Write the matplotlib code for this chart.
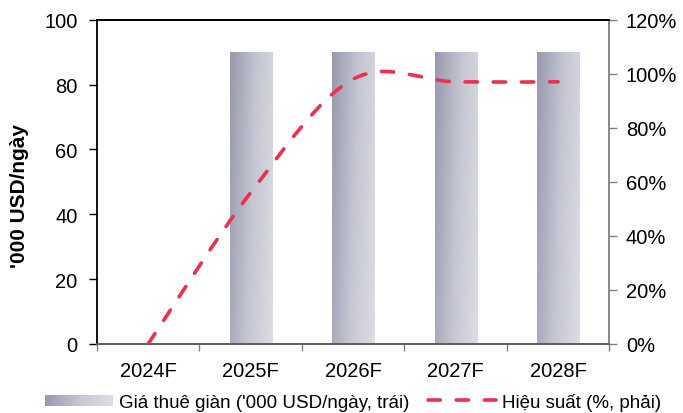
import numpy as np
import matplotlib

matplotlib.use('Agg')
import matplotlib.pyplot as plt
from matplotlib.path import Path
from matplotlib.patches import PathPatch, Rectangle
from matplotlib.lines import Line2D
from matplotlib.legend_handler import HandlerBase
from matplotlib.colors import LinearSegmentedColormap

plt.rcParams['font.family'] = ['Liberation Sans', 'DejaVu Sans']

years = ['2024F', '2025F', '2026F', '2027F', '2028F']
rig_rate = [0, 90, 90, 90, 90]          # '000 USD/ngay (trai)
utilization = [0, 56, 98, 97, 97]       # % (phai)

bar_cmap = LinearSegmentedColormap.from_list('rig', ['#9899ae', '#c3c5d1', '#dcdde4'])
line_color = '#ee2f4f'


class GradientHandler(HandlerBase):
    def create_artists(self, legend, orig_handle, xdescent, ydescent,
                       width, height, fontsize, trans):
        n = 30
        arts = []
        for k in range(n):
            r = Rectangle((xdescent + width * k / n, ydescent + height * 0.05),
                          width / n + 0.3, height * 0.9,
                          facecolor=bar_cmap(k / (n - 1)), edgecolor='none',
                          transform=trans)
            arts.append(r)
        return arts


fig = plt.figure(figsize=(6.83, 4.14), dpi=100)
ax = fig.add_axes([0.142, 0.167, 0.750, 0.783])
ax2 = ax.twinx()

x = np.arange(len(years))
bars = ax.bar(x, rig_rate, width=0.41, color='none', edgecolor='none', zorder=1)

# gradient fill for bars
gx = np.linspace(0, 1, 64)
gy = np.linspace(0, 1, 64)
GX, GY = np.meshgrid(gx, gy)
grad = 0.8 * GX + 0.2 * GY
for b in bars:
    if b.get_height() <= 0:
        continue
    x0, w, h = b.get_x(), b.get_width(), b.get_height()
    im = ax.imshow(grad, cmap=bar_cmap, extent=[x0, x0 + w, 0, h],
                   origin='upper', aspect='auto', zorder=1, vmin=0, vmax=1)
    im.set_clip_path(b)

ax.set_xlim(-0.5, len(years) - 0.5)
ax.set_ylim(0, 100)
ax.set_yticks(np.arange(0, 101, 20))
ax2.set_ylim(0, 120)
ax2.set_yticks(np.arange(0, 121, 20))
ax2.set_yticklabels(['%d%%' % v for v in range(0, 121, 20)])

# smoothed line (bezier through the points, like Excel)
pts = np.column_stack([x, utilization]).astype(float)
verts = [tuple(pts[0])]
codes = [Path.MOVETO]
n = len(pts)
for i in range(n - 1):
    p_prev = pts[max(i - 1, 0)]
    p0 = pts[i]
    p1 = pts[i + 1]
    p_next = pts[min(i + 2, n - 1)]
    c1 = p0 + (p1 - p_prev) / 6.0
    c2 = p1 - (p_next - p0) / 6.0
    verts += [tuple(c1), tuple(c2), tuple(p1)]
    codes += [Path.CURVE4] * 3
curve = PathPatch(Path(verts, codes), fill=False, edgecolor=line_color,
                  linewidth=2.6, linestyle=(0, (3.4, 4.4)), capstyle='round',
                  zorder=3)
ax2.add_patch(curve)

# spines and ticks
for a in (ax, ax2):
    a.spines['left'].set_color('black')
    a.spines['top'].set_color('black')
    a.spines['right'].set_color('#808080')
    a.spines['bottom'].set_color('#606060')
    for s in a.spines.values():
        s.set_linewidth(1.3)
ax.spines['right'].set_visible(False)
ax2.spines['left'].set_visible(False)

ax.set_xticks(np.arange(-0.5, len(years), 1.0))
ax.set_xticklabels([])
ax.set_xticks(x, minor=True)
ax.set_xticklabels(years, minor=True)
ax.tick_params(axis='x', which='major', direction='out', length=5, color='#808080', width=1)
ax.tick_params(axis='x', which='minor', length=0, pad=12, labelsize=14.5)
ax.tick_params(axis='y', direction='out', length=6, color='black', width=1, labelsize=14.5, pad=8)
ax2.tick_params(axis='y', direction='out', length=6, color='#808080', width=1, labelsize=14.5, pad=6)

ax.set_ylabel("'000 USD/ngày", fontsize=15, fontweight='bold')
ax.yaxis.set_label_coords(-0.133, 0.46)

bar_handle = Rectangle((0, 0), 1, 1)
line_handle = Line2D([], [], color=line_color, linewidth=2.6,
                     linestyle=(0, (3.4, 4.4)), dash_capstyle='round')
fig.legend([bar_handle, line_handle],
           ["Giá thuê giàn ('000 USD/ngày, trái)", 'Hiệu suất (%, phải)'],
           handler_map={Rectangle: GradientHandler()},
           loc='lower center', bbox_to_anchor=(0.517, -0.036), ncol=2,
           frameon=False, fontsize=13.5, handlelength=3.6, handleheight=0.7,
           handletextpad=0.35, columnspacing=1.0)

plt.savefig('out.png', dpi=100)
plt.close('all')
